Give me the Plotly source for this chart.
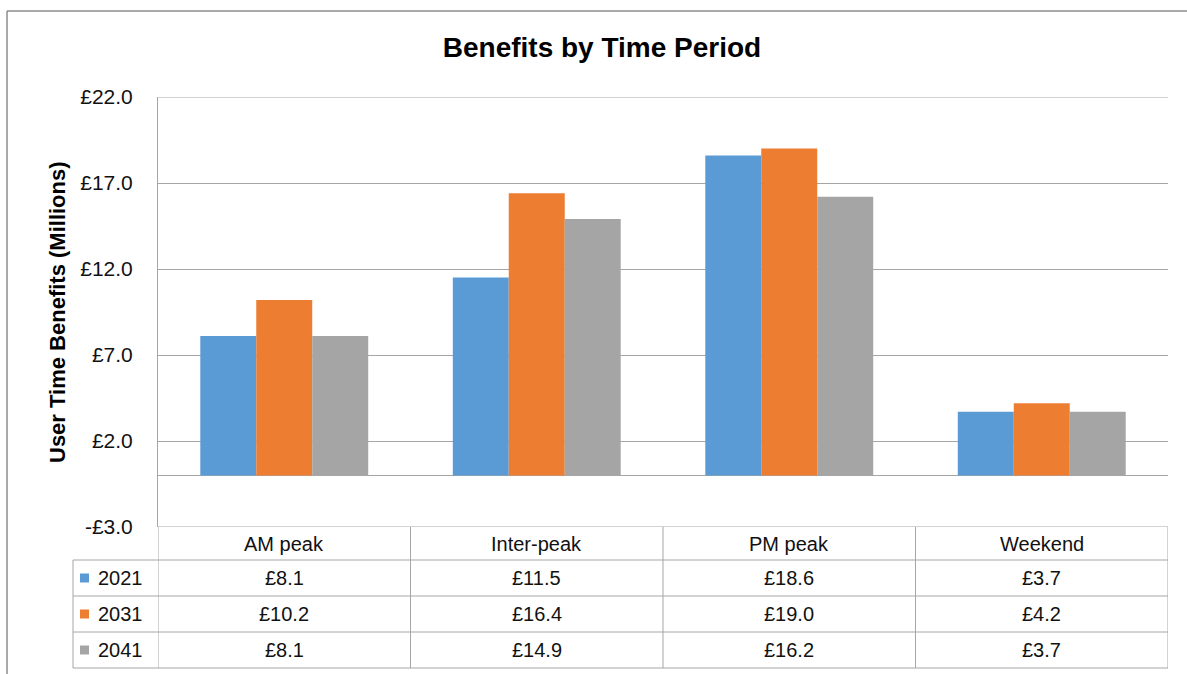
import plotly.graph_objects as go

# Data
periods = ["AM peak", "Inter-peak", "PM peak", "Weekend"]
years = ["2021", "2031", "2041"]
benefits_2021 = [8.1, 11.5, 18.6, 3.7]
benefits_2031 = [10.2, 16.4, 19.0, 4.2]
benefits_2041 = [8.1, 14.9, 16.2, 3.7]
tick_values = [-3, 2, 7, 12, 17, 22]
tick_labels = ["-£3.0", "£2.0", "£7.0", "£12.0", "£17.0", "£22.0"]

series = [benefits_2021, benefits_2031, benefits_2041]
colors = ["#5B9BD5", "#ED7D31", "#A5A5A5"]

W, H = 1187, 674
M_L, M_R, M_T, M_B = 158, 19, 97, 147
PW, PH = W - M_L - M_R, H - M_T - M_B
FONT = "Liberation Sans, Arial, sans-serif"
GRID = "#A6A6A6"


def px_x(px):
    return (px - M_L) / PW


def px_y(py):
    return (H - M_B - py) / PH


fig = go.Figure()
for name, vals, col in zip(years, series, colors):
    fig.add_trace(go.Bar(x=periods, y=vals, name=name, marker_color=col,
                         marker_line_width=0))

# Data table under the plot: one header row and one row per series
row_edges = [527, 560, 596, 632, 668]
table_left = 73
shapes = []
annotations = []

line = dict(color=GRID, width=1)
# gridlines at both ends of the value range (edges of the plot area)
for yv in (tick_values[0], tick_values[-1]):
    shapes.append(dict(type="line", xref="paper", yref="y", x0=0, x1=1,
                       y0=yv, y1=yv, line=line, layer="below"))
# horizontal rules of the table body
for ry in row_edges[1:]:
    shapes.append(dict(type="line", xref="paper", yref="paper",
                       x0=px_x(table_left), x1=1, y0=px_y(ry), y1=px_y(ry), line=line))
# vertical rules between categories
for k in range(len(periods) + 1):
    shapes.append(dict(type="line", xref="x", yref="paper",
                       x0=k - 0.5, x1=k - 0.5,
                       y0=px_y(row_edges[0]), y1=px_y(row_edges[-1]), line=line))
# left edge of the legend column
shapes.append(dict(type="line", xref="paper", yref="paper",
                   x0=px_x(table_left), x1=px_x(table_left),
                   y0=px_y(row_edges[1]), y1=px_y(row_edges[-1]), line=line))

# header labels
hy = px_y((row_edges[0] + row_edges[1]) / 2)
for k, p in enumerate(periods):
    annotations.append(dict(x=k, y=hy, xref="x", yref="paper", text=p,
                            showarrow=False, font=dict(size=20, color="#111"),
                            xanchor="center", yanchor="middle"))

# value rows with legend keys
for r, (name, vals, col) in enumerate(zip(years, series, colors)):
    cy = (row_edges[r + 1] + row_edges[r + 2]) / 2
    shapes.append(dict(type="rect", xref="paper", yref="paper",
                       x0=px_x(80), x1=px_x(89), y0=px_y(cy + 4.5), y1=px_y(cy - 4.5),
                       fillcolor=col, line=dict(width=0)))
    annotations.append(dict(x=px_x(96), y=px_y(cy), xref="paper", yref="paper",
                            text=name, showarrow=False, xanchor="left",
                            yanchor="middle", font=dict(size=20, color="#111")))
    for k, v in enumerate(vals):
        annotations.append(dict(x=k, y=px_y(cy), xref="x", yref="paper",
                                text=f"£{v:.1f}", showarrow=False,
                                xanchor="center", yanchor="middle",
                                font=dict(size=20, color="#111")))

# y-axis title
annotations.append(dict(x=px_x(57), y=0.5, xref="paper", yref="paper",
                        text="<b>User Time Benefits (Millions)</b>", textangle=-90,
                        showarrow=False, xanchor="center", yanchor="middle",
                        font=dict(size=22, color="#000")))

# outer chart frame (left and top edges)
frame = dict(color="#8C8C8C", width=1.5)
shapes.append(dict(type="line", xref="paper", yref="paper",
                   x0=px_x(7), x1=px_x(7), y0=px_y(11), y1=px_y(H + 5), line=frame))
shapes.append(dict(type="line", xref="paper", yref="paper",
                   x0=px_x(7), x1=px_x(W + 5), y0=px_y(11), y1=px_y(11), line=frame))

fig.update_layout(
    width=W, height=H,
    margin=dict(l=M_L, r=M_R, t=M_T, b=M_B, autoexpand=False),
    paper_bgcolor="white", plot_bgcolor="white",
    font=dict(family=FONT, color="#111"),
    title=dict(text="<b>Benefits by Time Period</b>", xref="container", yref="container",
               x=602 / W, y=1 - 47 / H, xanchor="center", yanchor="middle",
               font=dict(size=28, color="#000")),
    barmode="group", bargap=0.335, bargroupgap=0,
    showlegend=False,
    shapes=shapes, annotations=annotations,
)
fig.update_xaxes(showticklabels=False, showgrid=False, ticks="", zeroline=False,
                 range=[-0.5, len(periods) - 0.5], fixedrange=True)
fig.update_yaxes(range=[-3, 22], tickvals=tick_values, ticktext=tick_labels,
                 showgrid=True, gridcolor=GRID, gridwidth=1,
                 zeroline=True, zerolinecolor=GRID, zerolinewidth=1,
                 showline=True, linecolor=GRID, linewidth=1,
                 ticks="", ticklabelstandoff=20,
                 tickfont=dict(size=21, color="#111"), fixedrange=True)

fig.write_html("out.html")
